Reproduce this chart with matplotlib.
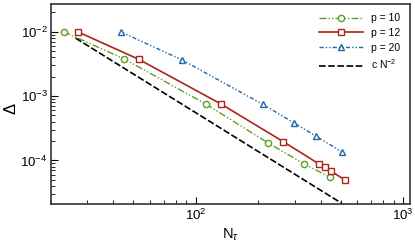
import numpy as np
import matplotlib
matplotlib.use('Agg')
import matplotlib.pyplot as plt

plt.rcParams['font.family'] = ['Liberation Sans', 'DejaVu Sans']
plt.rcParams['mathtext.fontset'] = 'custom'
plt.rcParams['mathtext.rm'] = 'Liberation Sans'
plt.rcParams['mathtext.it'] = 'Liberation Sans:italic'

# data
n_p10 = [23.0, 45.1, 111.8, 222, 333, 444]
err_p10 = [1.0e-2, 3.78e-3, 7.5e-4, 1.89e-4, 8.8e-5, 5.5e-5]

n_p12 = [26.9, 53.1, 132.5, 264, 393, 420, 448, 526]
err_p12 = [1.0e-2, 3.72e-3, 7.5e-4, 1.96e-4, 8.8e-5, 8.0e-5, 6.8e-5, 4.96e-5]

n_p20 = [43.3, 85.3, 211, 296.5, 381, 509]
err_p20 = [1.0e-2, 3.68e-3, 7.4e-4, 3.85e-4, 2.37e-4, 1.34e-4]

ref_n = [26.3, 506]
ref_c = 5.5

fig = plt.figure(figsize=(4.15, 2.44), dpi=100)
ax = fig.add_axes([51 / 415, 1 - 204 / 244, 359 / 415, 200 / 244])

ax.plot(n_p10, err_p10, color='#5c9e1e', lw=1.0, ls=(0, (5, 1.5, 1, 1.5, 1, 1.5)),
        marker='o', ms=4.5, mfc='white', mec='#5c9e1e', mew=1.0, label='p = 10')
ax.plot(n_p12, err_p12, color='#a8261a', lw=1.2, ls='-',
        marker='s', ms=4.5, mfc='white', mec='#a8261a', mew=1.0, label='p = 12')
ax.plot(n_p20, err_p20, color='#1f66ad', lw=1.0, ls=(0, (3, 1.5, 1, 1.5, 1, 1.5)),
        marker='^', ms=5, mfc='white', mec='#1f66ad', mew=1.0, label='p = 20')
ref_x = np.array(ref_n)
ax.plot(ref_x, ref_c * ref_x ** -2.0, color='black', lw=1.2, ls=(0, (4, 1.5)),
        label=r'c N$^{-2}$')

ax.set_xscale('log')
ax.set_yscale('log')
ax.set_xlim(20, 1080)
ax.set_ylim(2.1e-5, 2.7e-2)

ax.tick_params(which='both', direction='in', top=False, right=False, labelsize=9.5)
ax.tick_params(which='major', length=5)
ax.tick_params(which='minor', length=3)
ax.tick_params(axis='x', which='major', pad=3)
ax.tick_params(axis='y', which='major', pad=2.5)
for s in ax.spines.values():
    s.set_linewidth(1.2)
    s.set_color('#333333')

ax.set_xlabel(r'N$_{\tau}$', fontsize=10.5)
ax.set_ylabel('Δ', fontsize=12)
ax.xaxis.set_label_coords(0.5, -0.115)
ax.yaxis.set_label_coords(-0.09, 0.48)

leg = ax.legend(loc='upper right', fontsize=7.5, frameon=False, handlelength=4.2,
                labelspacing=0.45, borderaxespad=0.5)

plt.savefig('out.png', dpi=100)
